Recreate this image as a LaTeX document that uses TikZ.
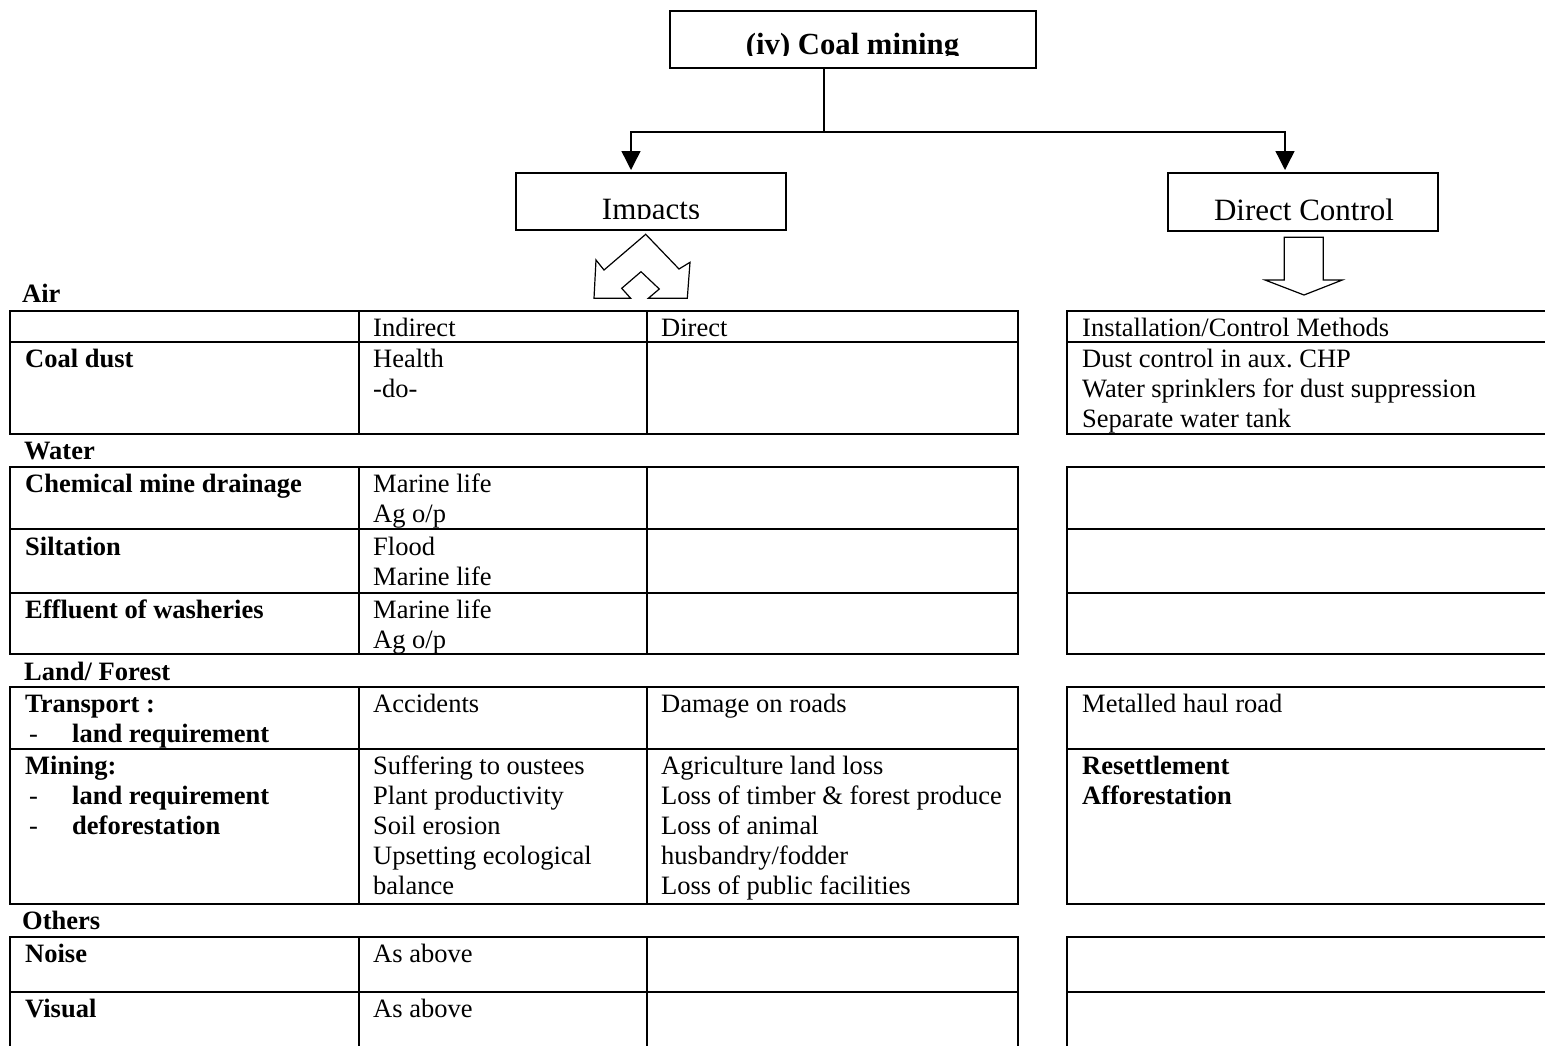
\documentclass[tikz,border=0pt]{standalone}
\usepackage{fontspec}
\setmainfont{Liberation Serif}
\usetikzlibrary{arrows.meta}
\frenchspacing
\newcommand\bodyfont{\fontsize{26.5}{30}\selectfont}
\newcommand\headfont{\fontsize{31}{36}\selectfont}
\tikzset{
  rule/.style={line width=2.2pt},
  box/.style={draw, line width=1.8pt, inner sep=0pt},
  conn/.style={line width=1.4pt},
  fatarrow/.style={draw, fill=white, line width=1.2pt, line join=miter},
  txt/.style={anchor=base west, inner sep=0pt, font=\bodyfont},
  btxt/.style={txt, font=\bodyfont\bfseries},
  headtxt/.style={anchor=base, inner sep=0pt, font=\headfont},
}
% one text line per entry, 30pt apart: name, style, x, first baseline, lines
\newcommand\cellrows[5]{%
  \foreach \rowtext [count=\rowno] in {#5}
    {\node[#2] (#1-\rowno) at ({#3},{#4+30*(\rowno-1)}) {\rowtext};}}
\begin{document}
\begin{tikzpicture}[x=1pt,y=-1pt]
\useasboundingbox (0,0) rectangle (1545,1045);

% heading boxes
\node[box, minimum width=366pt, minimum height=57pt] (coal) at (853,39.5) {};
\begin{scope}
  \clip (670,11) rectangle (1036,55.5);
  \node[anchor=base, inner sep=0pt, font=\fontsize{30.7}{36}\selectfont\bfseries]
    (coaltxt) at (852.5,54) {(iv) Coal mining};
\end{scope}
\node[box, minimum width=270pt, minimum height=57pt] (imp) at (651,201.5) {};
\begin{scope}
  \clip (516,173) rectangle (786,218.5);
  \node[headtxt] (imptxt) at (651,219.5) {Impacts};
\end{scope}
\node[box, minimum width=270pt, minimum height=58pt] (dc) at (1303,202) {};
\node[headtxt] (dctxt) at (1304,220) {Direct Control};

% branching connector
\coordinate (split) at (824,132);
\coordinate (impin) at (631,170);
\coordinate (dcin) at (1285,170);
\draw[conn] (coal.south -| split) -- (split);
\draw[conn, {Triangle[width=19pt,length=19pt]}-{Triangle[width=19pt,length=19pt]}]
  (impin) |- (split) -| (dcin);

% block arrows under the two boxes
\draw[fatarrow] (645.7,234.3) -- (679,269) -- (690,262.3) -- (687.3,298.3)
  -- (648.3,298.3) -- (659.3,289) -- (641,271.7) -- (621.7,288.3)
  -- (630.7,298.3) -- (594,298.3) -- (596,260) -- (604,270) -- cycle;
\draw[fatarrow] (1284.3,237.3) -- (1323.3,237.3) -- (1323.3,280) -- (1342.3,280)
  -- (1304,295) -- (1265,280) -- (1284.3,280) -- cycle;

% section headings
\node[btxt] (lblair) at (22,302.5) {Air};
\node[btxt] (lblwater) at (24,459) {Water};
\node[btxt] (lblland) at (24,680) {Land/ Forest};
\node[btxt] (lblother) at (22,929) {Others};

% ---- Air ----
\draw[rule] (10,311) rectangle (1018,434);
\draw[rule] (10,342) -- (1018,342) (359,311) -- (359,434) (647,311) -- (647,434);
\draw[rule] (1546,311) -- (1067,311) -- (1067,434) -- (1546,434);
\draw[rule] (1067,342) -- (1546,342);
\cellrows{airh2}{txt}{373}{336.5}{Indirect}
\cellrows{airh3}{txt}{661}{336.5}{Direct}
\cellrows{dust1}{btxt}{25}{367}{Coal dust}
\cellrows{dust2}{txt}{373}{367}{Health,-do-}
\cellrows{airr}{txt}{1082}{336.5}{Installation/Control Methods}
\cellrows{dustr}{txt}{1082}{367}{Dust control in aux. CHP,Water sprinklers for dust suppression,Separate water tank}

% ---- Water ----
\draw[rule] (10,467) rectangle (1018,654);
\draw[rule] (10,529) -- (1018,529) (10,593) -- (1018,593)
  (359,467) -- (359,654) (647,467) -- (647,654);
\draw[rule] (1546,467) -- (1067,467) -- (1067,654) -- (1546,654);
\draw[rule] (1067,529) -- (1546,529) (1067,593) -- (1546,593);
\cellrows{cmd1}{btxt}{25}{492}{Chemical mine drainage}
\cellrows{cmd2}{txt}{373}{492}{Marine life,Ag o/p}
\cellrows{silt1}{btxt}{25}{555}{Siltation}
\cellrows{silt2}{txt}{373}{555}{Flood,Marine life}
\cellrows{eff1}{btxt}{25}{618}{Effluent of washeries}
\cellrows{eff2}{txt}{373}{618}{Marine life,Ag o/p}

% ---- Land / Forest ----
\draw[rule] (10,687) rectangle (1018,904);
\draw[rule] (10,749) -- (1018,749) (359,687) -- (359,904) (647,687) -- (647,904);
\draw[rule] (1546,687) -- (1067,687) -- (1067,904) -- (1546,904);
\draw[rule] (1067,749) -- (1546,749);
\cellrows{tr1}{btxt}{25}{712}{Transport :}
\cellrows{trdash}{txt}{29}{742}{-}
\cellrows{trsub}{btxt}{72}{742}{land requirement}
\cellrows{tr2}{txt}{373}{712}{Accidents}
\cellrows{tr3}{txt}{661}{712}{Damage on roads}
\cellrows{trr}{txt}{1082}{712}{Metalled haul road}
\cellrows{mn1}{btxt}{25}{774}{Mining:}
\cellrows{mndash}{txt}{29}{804}{-,-}
\cellrows{mnsub}{btxt}{72}{804}{land requirement,deforestation}
\cellrows{mn2}{txt}{373}{774}{Suffering to oustees,Plant productivity,Soil erosion,Upsetting ecological,balance}
\cellrows{mn3}{txt}{661}{774}{Agriculture land loss,Loss of timber \& forest produce,Loss of animal,husbandry/fodder,Loss of public facilities}
\cellrows{mnr}{btxt}{1082}{774}{Resettlement,Afforestation}

% ---- Others ----
\draw[rule] (10,1046) -- (10,937) -- (1018,937) -- (1018,1046);
\draw[rule] (10,992) -- (1018,992) (359,937) -- (359,1046) (647,937) -- (647,1046);
\draw[rule] (1546,937) -- (1067,937) -- (1067,1046);
\draw[rule] (1067,992) -- (1546,992);
\cellrows{noise1}{btxt}{25}{962}{Noise}
\cellrows{noise2}{txt}{373}{962}{As above}
\cellrows{vis1}{btxt}{25}{1017}{Visual}
\cellrows{vis2}{txt}{373}{1017}{As above}
\end{tikzpicture}
\end{document}
